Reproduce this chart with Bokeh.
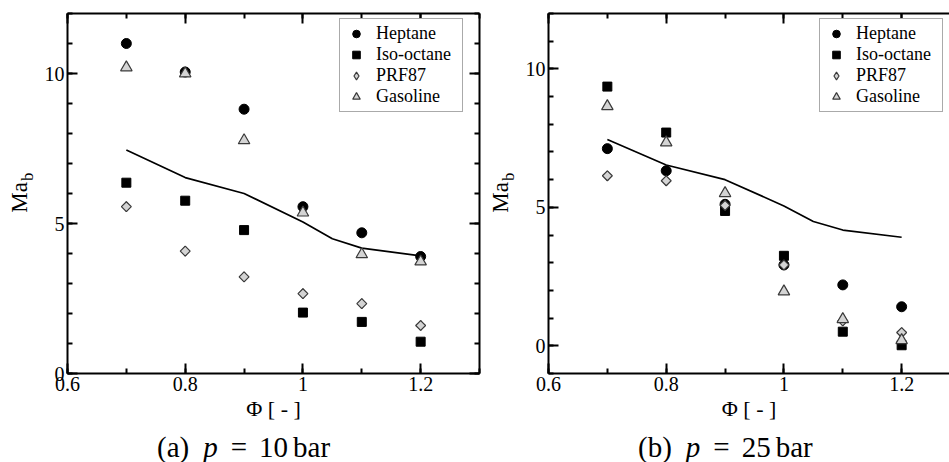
import numpy as np
from bokeh.plotting import figure
from bokeh.layouts import row, column
from bokeh.models import (FixedTicker, LinearAxis, Range1d, Legend,
                          LegendItem, CustomJSTickFormatter, Div)
from bokeh.embed import file_html
from bokeh.resources import INLINE

# ---------------- data ----------------
phi = [0.7, 0.8, 0.9, 1.0, 1.1, 1.2]

heptane_10 = [11.0, 10.05, 8.81, 5.56, 4.69, 3.90]
isooctane_10 = [6.36, 5.76, 4.78, 2.03, 1.72, 1.06]
prf87_10 = [5.56, 4.08, 3.22, 2.66, 2.33, 1.60]
gasoline_10 = [10.2, 10.0, 7.77, 5.36, 3.97, 3.73]

heptane_25 = [7.12, 6.32, 5.11, 2.92, 2.20, 1.41]
isooctane_25 = [9.36, 7.70, 4.87, 3.25, 0.51, 0.02]
prf87_25 = [6.14, 5.96, 5.07, 2.92, 0.90, 0.48]
gasoline_25 = [8.65, 7.34, 5.51, 1.96, 0.96, 0.20]

line_phi = [0.7, 0.8, 0.9, 1.0, 1.05, 1.1, 1.2]
line_ma = [7.45, 6.53, 6.0, 5.05, 4.49, 4.18, 3.92]

series_names = ["Heptane", "Iso-octane", "PRF87", "Gasoline"]
x_major = [0.6, 0.8, 1.0, 1.2]
x_minor = [0.6, 0.7, 0.8, 0.9, 1.0, 1.1, 1.2, 1.3]
y_major = [0, 5, 10]
y_minor = list(range(-1, 13))
x_label = "Φ [ - ]"
captions = [("(a)", "10"), ("(b)", "25")]

FONT = "Liberation Serif"
CSS_FONT = "'Liberation Serif', 'Times New Roman', Times, serif"
LIGHT = "#d4d4d4"
DARK = "#3a3a3a"


def style_axis(ax, ticks, minor, labels=True):
    ax.ticker = FixedTicker(ticks=ticks, minor_ticks=minor)
    ax.axis_line_width = 2
    ax.axis_line_color = "black"
    ax.major_tick_in = 10
    ax.major_tick_out = 0
    ax.minor_tick_in = 5
    ax.minor_tick_out = 0
    ax.major_tick_line_width = 2
    ax.minor_tick_line_width = 2
    if labels:
        ax.formatter = CustomJSTickFormatter(code="return tick.toString()")
        ax.major_label_text_font = FONT
        ax.major_label_text_font_size = "20px"
        ax.major_label_text_color = "black"
        ax.major_label_standoff = 3
    else:
        ax.formatter = CustomJSTickFormatter(code="return ''")
        ax.major_label_text_font_size = "0px"
        ax.major_label_standoff = 0


def make_panel(heptane, iso, prf, gas, y_start, x_end, frame_width,
               border_right, right_axis, legend_x):
    p = figure(frame_width=frame_width, frame_height=360,
               x_range=Range1d(0.6, x_end), y_range=Range1d(y_start, 12),
               output_backend="svg", toolbar_location=None,
               min_border_left=29, min_border_right=border_right,
               min_border_top=13, min_border_bottom=55)
    p.outline_line_color = None
    p.xgrid.visible = False
    p.ygrid.visible = False
    p.background_fill_color = "white"
    p.border_fill_color = "white"

    style_axis(p.xaxis[0], x_major, x_minor)
    style_axis(p.yaxis[0], y_major, y_minor)
    p.xaxis[0].axis_label = x_label
    p.xaxis[0].axis_label_text_font = FONT
    p.xaxis[0].axis_label_text_font_size = "22px"
    p.xaxis[0].axis_label_text_font_style = "normal"
    p.xaxis[0].axis_label_text_color = "black"
    p.xaxis[0].axis_label_standoff = 2

    top = LinearAxis()
    style_axis(top, x_major, x_minor, labels=False)
    p.add_layout(top, "above")
    if right_axis:
        rgt = LinearAxis()
        style_axis(rgt, y_major, y_minor, labels=False)
        p.add_layout(rgt, "right")

    p.line(line_phi, line_ma, line_color="black", line_width=1.7)
    r1 = p.scatter(phi, heptane, marker="circle", size=10,
                   fill_color="black", line_color="black")
    r2 = p.scatter(phi, iso, marker="square", size=9,
                   fill_color="black", line_color="black")
    # diamond (used for the legend symbol), covered by the rotated square
    r3 = p.scatter(phi, prf, marker="diamond", size=9.6,
                   fill_color=LIGHT, line_color=DARK, line_width=1.2)
    p.scatter(phi, prf, marker="square", size=7, angle=np.pi / 4,
              fill_color=LIGHT, line_color=DARK, line_width=1.2)
    r4 = p.scatter(phi, gas, marker="triangle", size=11.5,
                   fill_color=LIGHT, line_color=DARK, line_width=1.2)

    legend = Legend(items=[LegendItem(label=n, renderers=[r])
                           for n, r in zip(series_names, [r1, r2, r3, r4])],
                    location=(legend_x, 261))
    legend.label_text_font = FONT
    legend.label_text_font_size = "18px"
    legend.label_text_color = "black"
    legend.glyph_width = 24
    legend.glyph_height = 19
    legend.label_height = 19
    legend.label_width = 82
    legend.label_standoff = 8
    legend.padding = 4
    legend.spacing = 0
    legend.margin = 0
    legend.border_line_color = "#555555"
    legend.border_line_width = 1.5
    legend.background_fill_alpha = 1.0
    p.add_layout(legend)
    return p


def ylabel_div(width, shift):
    html = ('<div style="height:360px; margin-top:13px; display:flex; '
            'align-items:center;">'
            '<span style="writing-mode:vertical-rl; transform:rotate(180deg); '
            'font-family:%s; font-size:23px; line-height:23px; '
            'color:black; margin-left:%dpx;">Ma'
            '<span style="font-size:16px; vertical-align:-8px; '
            'margin-top:1px;">b</span></span></div>' % (CSS_FONT, shift))
    return Div(text=html, width=width, height=373, margin=0)


def caption_div(width, pad_left, letter, pressure):
    html = ('<div style="font-family:%s; font-size:29px; '
            'line-height:34px; padding-top:2px; color:black; white-space:nowrap; '
            'padding-left:%dpx;">%s<i style="margin-left:14px;">p</i>'
            '<span style="margin-left:13px;">=</span>'
            '<span style="margin-left:12px;">%s</span>'
            '<span style="margin-left:5px;">bar</span></div>'
            % (CSS_FONT, pad_left, letter, pressure))
    return Div(text=html, width=width, height=34, margin=0)


pa = make_panel(heptane_10, isooctane_10, prf87_10, gasoline_10,
                0, 1.3, 412, 10, True, 272)
x_end_b = 0.6 + 401 / 588.57
pb = make_panel(heptane_25, isooctane_25, prf87_25, gasoline_25,
                -1, x_end_b, 401, 0, False, 271)

left_block = column(row(ylabel_div(38, 8), pa),
                    caption_div(489, 157, *captions[0]), spacing=0)
right_block = column(row(ylabel_div(30, 0), pb),
                     caption_div(460, 149, *captions[1]), spacing=0)
layout = row(left_block, right_block, spacing=0)
open("out.html", "w").write(file_html(layout, INLINE))
